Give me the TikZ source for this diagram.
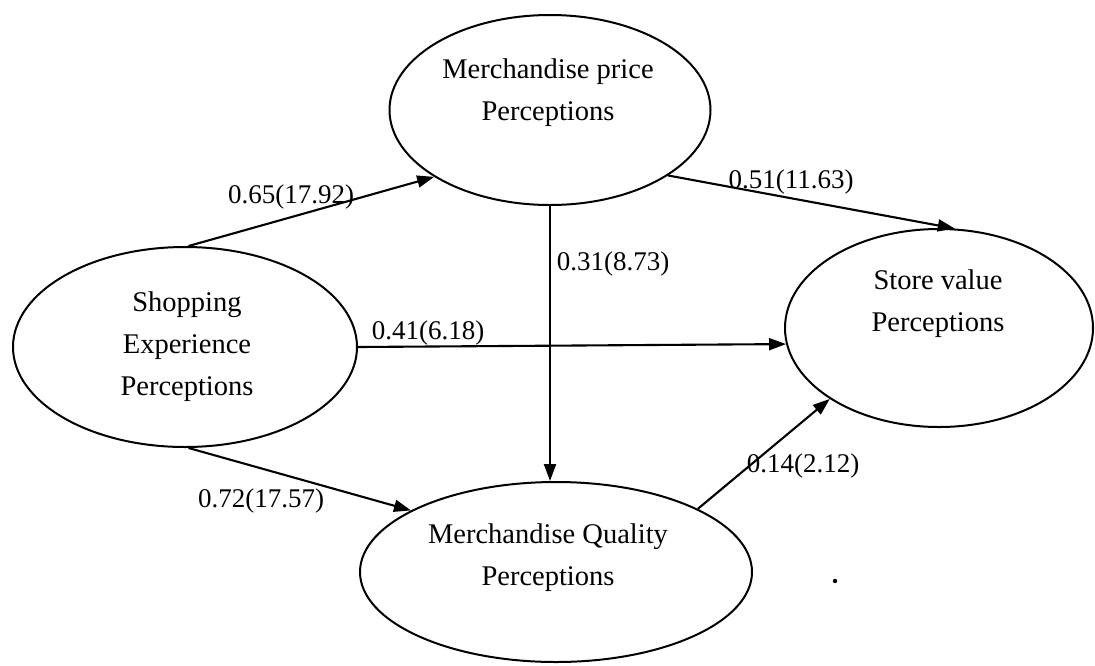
\documentclass[tikz,border=0pt]{standalone}
\usepackage{fontspec}
\setmainfont{Liberation Serif}
\usetikzlibrary{shapes.geometric,arrows.meta}
\begin{document}
\begin{tikzpicture}[x=1pt,y=-1pt,
  latent/.style={draw, ellipse, line width=2pt, inner sep=0pt},
  pathline/.style={line width=2.1pt, -{Triangle[length=17pt,width=12pt]}},
  coef/.style={font=\fontsize{27}{32}\selectfont, inner sep=0pt},
  construct/.style={font=\fontsize{28.5}{42}\selectfont, align=center, inner sep=0pt}]
\useasboundingbox (0,0) rectangle (1095,665);

% latent constructs
\node[latent, minimum width=321pt, minimum height=190pt] (mp) at (550,110) {};
\node[latent, minimum width=344pt, minimum height=200pt] (se) at (185,347) {};
\node[latent, minimum width=308pt, minimum height=198pt] (sv) at (939,328) {};
\node[latent, minimum width=392pt, minimum height=180pt] (mq) at (556,572) {};

% construct names
\node[construct] (mpt) at (548,93) {Merchandise price\\Perceptions};
\node[construct] (set) at (187,347) {Shopping\\Experience\\Perceptions};
\node[construct] (svt) at (938,304) {Store value\\Perceptions};
\node[construct] (mqt) at (548,558) {Merchandise Quality\\Perceptions};

% structural paths
\draw[pathline] (se.88) -- (mp.210);
\draw[pathline] (mp.331) -- (sv.81);
\draw[pathline] (mp.south) -- (mp.south |- mq.north);
\draw[pathline] (se.east) -- (sv.186);
\draw[pathline] (se.272) -- (mq.157);
\draw[pathline] (mq.24) -- (sv.213);

% path coefficients (t-values)
\node[coef] (c1) at (291,197) {0.65(17.92)};
\node[coef] (c2) at (791,182) {0.51(11.63)};
\node[coef] (c3) at (613,264) {0.31(8.73)};
\node[coef] (c4) at (428,333) {0.41(6.18)};
\node[coef] (c5) at (803,466) {0.14(2.12)};
\node[coef] (c6) at (261,501) {0.72(17.57)};

% stray mark
\fill (835,581) circle (2.2pt);
\end{tikzpicture}
\end{document}
